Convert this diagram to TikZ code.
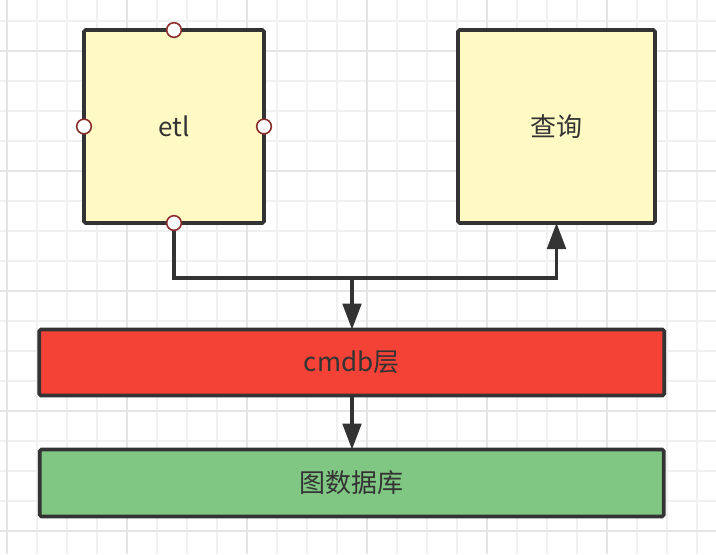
\documentclass[tikz,border=0pt]{standalone}
\usepackage{fontspec}
\setmainfont{Noto Sans CJK SC}
\usetikzlibrary{arrows.meta}
\definecolor{strokec}{HTML}{333333}
\definecolor{yellowc}{HTML}{FFF9C4}
\definecolor{redc}{HTML}{F44336}
\definecolor{greenc}{HTML}{81C784}
\definecolor{gridminor}{HTML}{F0F0F0}
\definecolor{gridmajor}{HTML}{E4E4E4}
\definecolor{portc}{HTML}{8B2E2E}
\tikzset{
  box/.style={draw=strokec, line width=2.7pt, rounded corners=1.2pt, inner sep=0pt, outer sep=0pt,
    font=\fontsize{19.5}{22}\selectfont, text=strokec},
  conn/.style={draw=strokec, line width=2.4pt},
  arr/.style={-{Triangle[length=19.5pt,width=14pt]}},
  port/.style={circle, draw=portc, fill=white, line width=1.2pt, minimum size=11pt, inner sep=0pt},
}
\begin{document}
\begin{tikzpicture}[x=0.75pt,y=-0.75pt]
\useasboundingbox (0,0) rectangle (716,554);
\fill[white] (0,0) rectangle (716,554);
% grid
\foreach \gx in {7,37,...,716} \draw[gridminor, line width=1.3pt] (\gx,0) -- (\gx,554);
\foreach \gy in {21,51,...,554} \draw[gridminor, line width=1.3pt] (0,\gy) -- (716,\gy);
\foreach \gx in {7,127,...,716} \draw[gridmajor, line width=1.4pt] (\gx,0) -- (\gx,554);
\foreach \gy in {51,171,...,554} \draw[gridmajor, line width=1.4pt] (0,\gy) -- (716,\gy);
% boxes
\node[box, fill=yellowc, minimum width=135pt, minimum height=144.75pt] (etl) at (174,126.5) {etl};
\node[box, fill=yellowc, minimum width=147.75pt, minimum height=144.75pt] (query) at (556.5,126.5) {查询};
\node[box, fill=redc, minimum width=468.75pt, minimum height=49.5pt] (cmdb) at (351.75,362.5) {cmdb层};
\node[box, fill=greenc, minimum width=468pt, minimum height=50.25pt] (gdb) at (351.75,483) {图数据库};
% connectors
\coordinate (j) at (352,278);
\draw[conn, arr] (etl.south) -- (174,278) -| (query.south);
\draw[conn, arr] (j) -- (j |- cmdb.north);
\draw[conn, arr] (cmdb.south -| j) -- (gdb.north -| j);
% ports
\node[port] (p1) at (etl.north) {};
\node[port] (p2) at (etl.west) {};
\node[port] (p3) at (etl.east) {};
\node[port] (p4) at (etl.south) {};
\end{tikzpicture}
\end{document}
